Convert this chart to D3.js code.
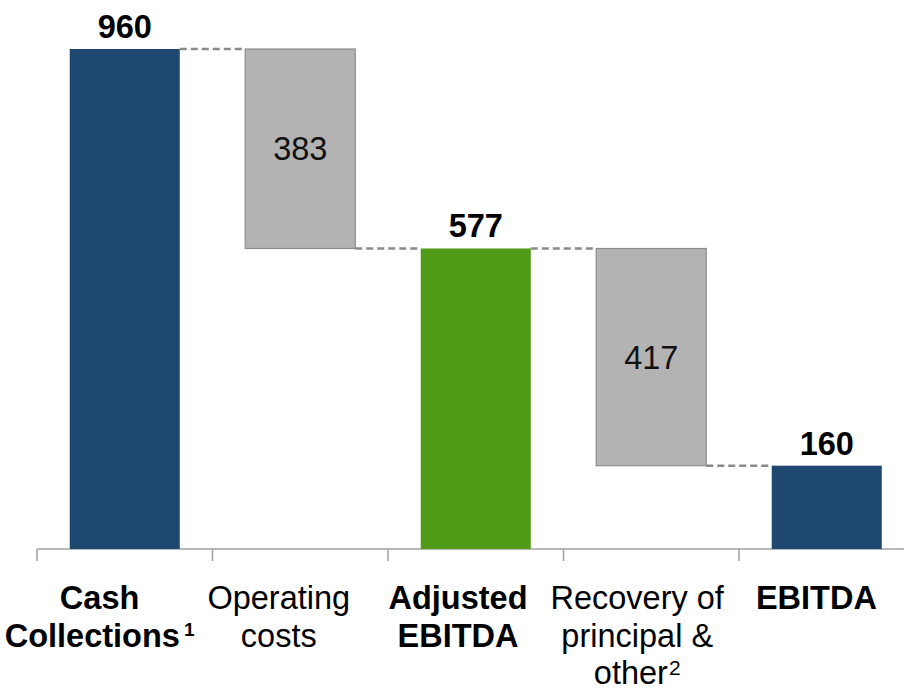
<!DOCTYPE html>
<html>
<head>
<meta charset="utf-8">
<script src="https://cdn.jsdelivr.net/npm/d3@7"></script>
<style>
html,body{margin:0;padding:0;background:#fff;}
svg{display:block;font-family:"Liberation Sans",Arial,sans-serif;}
</style>
</head>
<body>
<svg id="chart" width="904" height="698"></svg>
<script>
// Data
const categories = ["Cash Collections", "Operating costs", "Adjusted EBITDA", "Recovery of principal & other", "EBITDA"];
const labelLines = [["Cash", "Collections"], ["Operating", "costs"], ["Adjusted", "EBITDA"], ["Recovery of", "principal &", "other"], ["EBITDA"]];
const footnotes = ["1", "", "", "2", ""];
const values = [960, -383, 577, -417, 160];
const types = ["total", "delta", "total", "delta", "total"];
const boldLabels = [true, false, true, false, true];

const svg = d3.select("#chart");
const baseY = 549, topY = 49;
const y = d3.scaleLinear().domain([0, 960]).range([baseY, topY]);
const x = d3.scaleBand().domain(categories).range([37, 914.5]).paddingInner(0.373).paddingOuter(0.1865);
const xLabel = d3.scaleBand().domain(categories).range([10, 906]);
const step = x.step();

const colors = ["#1f4870", "#b3b3b3", "#4f9a17", "#b3b3b3", "#1f4870"];
const FS = 32.5;

// compute bar extents
let running = 0;
const bars = values.map((v, i) => {
  let lo, hi;
  if (types[i] === "total") { lo = 0; hi = v; running = v; }
  else { hi = running; lo = running + v; running = lo; }
  return {i, cat: categories[i], v, lo, hi, end: types[i] === "total" ? v : lo};
});

// axis
const axisG = svg.append("g");
axisG.append("line").attr("x1", 37).attr("x2", 904).attr("y1", baseY).attr("y2", baseY)
  .attr("stroke", "#a0a0a0").attr("stroke-width", 1.5);
const tickXs = d3.range(categories.length + 1).map(k => 37 + k * step);
axisG.selectAll("line.tick").data(tickXs).join("line").attr("class", "tick")
  .attr("x1", d => d).attr("x2", d => d).attr("y1", baseY).attr("y2", baseY + 12)
  .attr("stroke", "#a0a0a0").attr("stroke-width", 1.5);

// connectors
for (let k = 0; k < bars.length - 1; k++) {
  const level = bars[k].end;
  svg.append("line")
    .attr("x1", x(bars[k].cat) + x.bandwidth()).attr("x2", x(bars[k + 1].cat))
    .attr("y1", y(level)).attr("y2", y(level))
    .attr("stroke", "#8a8a8a").attr("stroke-width", 2.5).attr("stroke-dasharray", "7,4");
}

// bars
svg.selectAll("rect.bar").data(bars).join("rect").attr("class", "bar")
  .attr("x", d => x(d.cat)).attr("width", x.bandwidth())
  .attr("y", d => y(d.hi)).attr("height", d => y(d.lo) - y(d.hi))
  .attr("fill", d => colors[d.i])
  .attr("stroke", d => types[d.i] === "delta" ? "#8c8c8c" : "none")
  .attr("stroke-width", 1.2);

// value labels
bars.forEach(d => {
  const cx = x(d.cat) + x.bandwidth() / 2;
  if (types[d.i] === "total") {
    svg.append("text").attr("x", cx).attr("y", y(d.hi) - 11)
      .attr("text-anchor", "middle").attr("font-size", FS).attr("font-weight", "bold")
      .attr("fill", "#000").text(d.v);
  } else {
    svg.append("text").attr("x", cx).attr("y", (y(d.hi) + y(d.lo)) / 2)
      .attr("dy", "0.36em")
      .attr("text-anchor", "middle").attr("font-size", FS)
      .attr("fill", "#111").text(Math.abs(d.v));
  }
});

// category labels
categories.forEach((c, i) => {
  const cx = xLabel(c) + xLabel.bandwidth() / 2;
  const t = svg.append("text").attr("text-anchor", "middle").attr("font-size", FS)
    .attr("font-weight", boldLabels[i] ? "bold" : "normal").attr("fill", "#000");
  const lines = labelLines[i];
  lines.forEach((ln, j) => {
    const ts = t.append("tspan").attr("x", cx).attr("y", 609 + j * 37.5);
    ts.append("tspan").text(ln);
    if (j === lines.length - 1 && footnotes[i]) {
      if (boldLabels[i]) {
        ts.append("tspan").attr("font-size", 19).attr("dx", 4).attr("dy", -11).text(footnotes[i]);
      } else {
        ts.append("tspan").attr("font-size", 21).attr("dx", 1).attr("dy", -9).text(footnotes[i]);
      }
    }
  });
});
</script>
</body>
</html>
